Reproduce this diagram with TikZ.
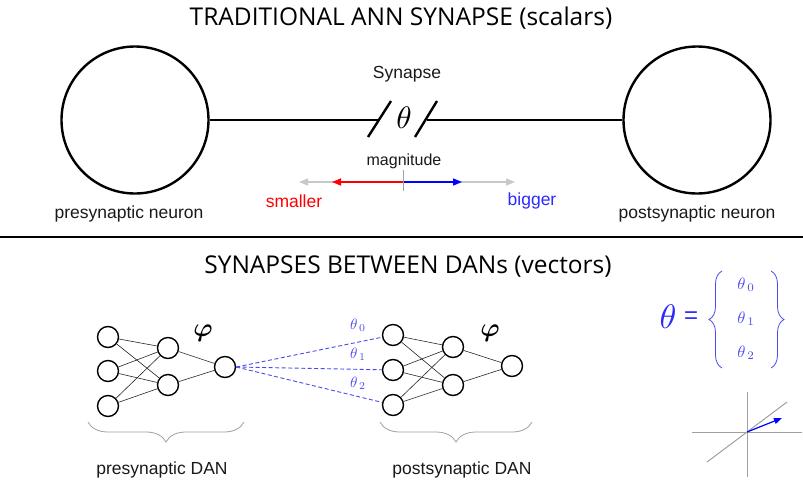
\documentclass[tikz,border=0pt]{standalone}
\usepackage{amsmath,bm}
\usepackage{fontspec}
\setmainfont{Liberation Sans}
\newfontfamily\titlefont{Open Sans}
\usetikzlibrary{arrows.meta,decorations.pathreplacing}
\definecolor{thblue}{HTML}{2B2BFF}
\definecolor{dblue}{HTML}{4A4AF0}
\definecolor{lgray}{HTML}{C8C8C8}
\definecolor{mgray}{HTML}{A0A0A0}
\begin{document}
\begin{tikzpicture}[x=1pt,y=-1pt,
  bigneuron/.style={circle, draw, line width=2.4pt, minimum size=147pt, inner sep=0pt},
  neuron/.style={circle, draw, line width=1.4pt, minimum size=21pt, inner sep=0pt},
  conn/.style={line width=0.6pt, black!85},
  thick2/.style={line width=2.4pt},
  lbl/.style={font=\fontsize{17.5}{21}\selectfont, text=black!90},
  ttl/.style={font=\titlefont\fontsize{24.5}{29}\selectfont},
  tip/.style={-{Triangle[length=9pt,width=7pt]}},
  dashline/.style={dash pattern=on 4pt off 2.5pt, line width=0.9pt, dblue},
  bracegray/.style={line width=0.8pt, mgray, decorate, decoration={brace, amplitude=20pt}},
  braceblue/.style={line width=0.8pt, dblue, decorate, decoration={brace, amplitude=13pt}},
  axis/.style={line width=1pt, mgray},
  wlbl/.style={text=dblue, scale=1.5, inner sep=1pt}
]
\useasboundingbox (0,0) rectangle (803,480);

% ---------- top section ----------
\node[ttl] (t1) at (401,18) {TRADITIONAL ANN SYNAPSE (scalars)};

\node[bigneuron] (pre) at (135,120) {};
\node[bigneuron] (post) at (697,120) {};
\coordinate (sl) at (378,120);
\coordinate (sr) at (427,120);
\draw[thick2] (pre) -- (sl);
\draw[thick2] (sr) -- (post);
\draw[thick2] (368,137) -- (391,101);
\draw[thick2] (415,137) -- (437,101);
\node[scale=3.1, inner sep=0pt] (theta) at (404,118) {$\theta$};
\node[lbl] (syn) at (407,74) {Synapse};
\node[font=\fontsize{16}{19}\selectfont, text=black!90] (mag) at (404,161) {magnitude};

\coordinate (mid) at (403,182);
\coordinate (gl) at (299,182);
\coordinate (gr) at (515,182);
\coordinate (rl) at (332,182);
\coordinate (br) at (462,182);
\draw[lgray, line width=1.5pt, tip] (mid) -- (gl);
\draw[lgray, line width=1.5pt, tip] (mid) -- (gr);
\draw[red, line width=1.5pt, tip] (mid) -- (rl);
\draw[blue, line width=1.5pt, tip] (mid) -- (br);
\draw[mgray, line width=0.8pt] (403,170) -- (403,191);
\node[lbl, text=red] (small) at (294,201) {smaller};
\node[lbl, text=thblue] (big) at (532,201) {bigger};

\node[lbl] (prel) at (129,214) {presynaptic neuron};
\node[lbl] (postl) at (697,214) {postsynaptic neuron};

\draw[line width=1.2pt] (0,237) -- (803,237);

% ---------- bottom section ----------
\node[ttl] (t2) at (408,267) {SYNAPSES BETWEEN DANs (vectors)};

\node[neuron] (i1) at (108,337) {};
\node[neuron] (i2) at (108,371) {};
\node[neuron] (i3) at (108,406) {};
\node[neuron] (h1) at (168,348) {};
\node[neuron] (h2) at (168,385) {};
\node[neuron] (o) at (225,367) {};
\foreach \a in {i1,i2,i3} \foreach \b in {h1,h2} \draw[conn] (\a) -- (\b);
\draw[conn] (h1) -- (o);
\draw[conn] (h2) -- (o);
\node[scale=2.6, inner sep=0pt] (phi1) at (203,333) {$\bm{\varphi}$};

\node[neuron] (j1) at (393,335) {};
\node[neuron] (j2) at (393,370) {};
\node[neuron] (j3) at (393,405) {};
\node[neuron] (k1) at (453,347) {};
\node[neuron] (k2) at (453,385) {};
\node[neuron] (p) at (512,366) {};
\foreach \a in {j1,j2,j3} \foreach \b in {k1,k2} \draw[conn] (\a) -- (\b);
\draw[conn] (k1) -- (p);
\draw[conn] (k2) -- (p);
\node[scale=2.6, inner sep=0pt] (phi2) at (490,333) {$\bm{\varphi}$};

\draw[dashline] (o.east) -- (j1);
\draw[dashline] (o.east) -- (j2);
\draw[dashline] (o.east) -- (j3);
\node[wlbl] (w0) at (358,325) {$\theta_{\,0}$};
\node[wlbl] (w1) at (358,354) {$\theta_{\,1}$};
\node[wlbl] (w2) at (358,383) {$\theta_{\,2}$};

\draw[bracegray] (244,422) -- (88,422);
\draw[bracegray] (532,422) -- (380,422);
\node[lbl] (pred) at (162,470) {presynaptic DAN};
\node[lbl] (postd) at (462,470) {postsynaptic DAN};

% ---------- right: vector ----------
\node[text=thblue, scale=3.4, inner sep=0pt] (thv) at (668,317) {$\theta$};
\node[text=thblue, font=\fontsize{24}{28}\selectfont, inner sep=0pt] (eq) at (691,318) {=};
\draw[braceblue] (722,368) -- (722,271);
\draw[braceblue] (771,271) -- (771,368);
\node[wlbl, scale=1.1] (v0) at (746,285) {$\theta_{\,0}$};
\node[wlbl, scale=1.1] (v1) at (746,319) {$\theta_{\,1}$};
\node[wlbl, scale=1.1] (v2) at (746,353) {$\theta_{\,2}$};

\coordinate (org) at (747,432);
\coordinate (vec) at (782,418);
\draw[axis] (747,392) -- (747,477);
\draw[axis] (692,432) -- (802,432);
\draw[axis] (707,462) -- (787,402);
\draw[blue, line width=1.2pt, -{Triangle[length=8pt,width=6pt]}] (org) -- (vec);
\end{tikzpicture}
\end{document}
